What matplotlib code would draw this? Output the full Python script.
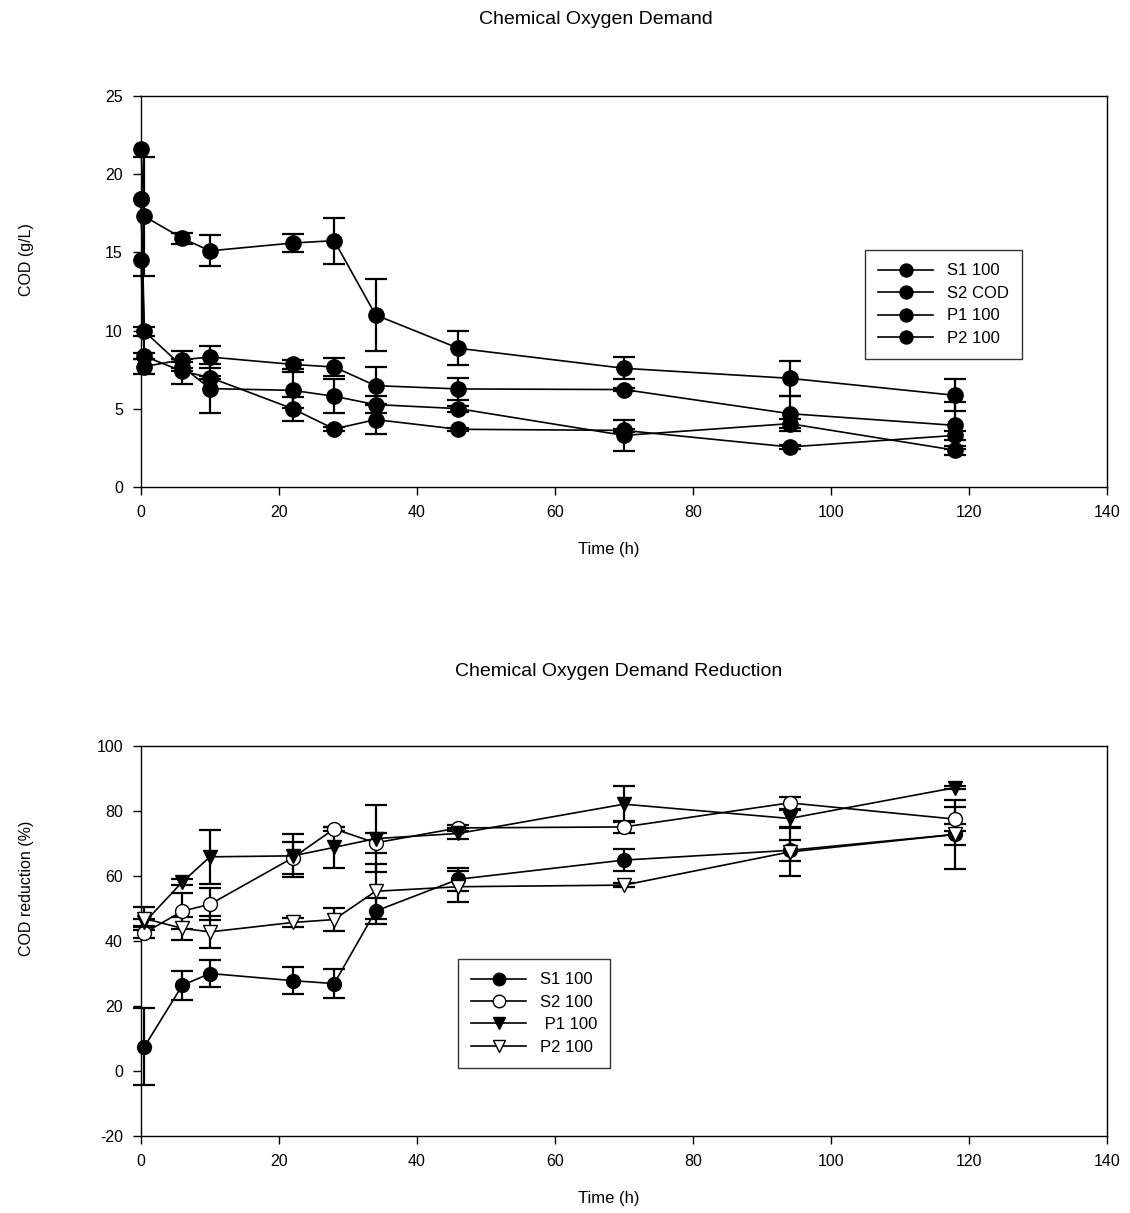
import numpy as np
import matplotlib
matplotlib.use("Agg")
import matplotlib.pyplot as plt

plt.rcParams["font.family"] = ["Liberation Sans", "DejaVu Sans"]
plt.rcParams["axes.unicode_minus"] = False

# Top chart: COD (g/L)
cod_time = [0, 0.5, 6, 10, 22, 28, 34, 46, 70, 94, 118]
cod_labels = ["S1 100", "S2 COD", "P1 100", "P2 100"]
cod_s1 = [21.6, 17.3, 15.9, 15.1, 15.6, 15.75, 11.0, 8.87, 7.59, 6.95, 5.86]
cod_s1_err = [0, 3.8, 0.35, 1.0, 0.58, 1.47, 2.3, 1.08, 0.71, 1.1, 1.02]
cod_s2 = [14.5, 7.7, 8.14, 8.31, 7.84, 7.67, 6.48, 6.27, 6.23, 4.69, 3.94]
cod_s2_err = [0, 0.5, 0.54, 0.7, 0.3, 0.55, 1.2, 0.7, 0.1, 1.1, 1.5]
cod_p1 = [18.4, 9.95, 7.7, 6.29, 6.18, 5.8, 5.27, 5.01, 3.30, 4.05, 2.35]
cod_p1_err = [0, 0.3, 0.3, 1.55, 1.15, 1.1, 0.55, 0.2, 1.0, 0.3, 0.3]
cod_p2 = [18.4, 8.36, 7.4, 7.0, 5.0, 3.71, 4.31, 3.69, 3.62, 2.56, 3.30]
cod_p2_err = [0, 0.2, 0.8, 0.1, 0.75, 0.1, 0.93, 0.1, 0.1, 0.15, 0.3]

# Bottom chart: COD reduction (%)
red_time = [0.5, 6, 10, 22, 28, 34, 46, 70, 94, 118]
red_labels = ["S1 100", "S2 100", " P1 100", "P2 100"]
red_s1 = [7.5, 26.4, 30.0, 27.8, 26.9, 49.2, 59.0, 64.9, 67.9, 72.8]
red_s1_err = [11.9, 4.5, 4.25, 4.25, 4.35, 4.0, 3.5, 3.3, 3.3, 3.3]
red_s2 = [42.5, 49.2, 51.3, 65.6, 74.5, 70.2, 74.8, 75.1, 82.5, 77.5]
red_s2_err = [1.7, 5.6, 4.9, 4.9, 0.5, 3.0, 0.8, 1.8, 1.8, 3.8]
red_p1 = [45.7, 58.2, 65.9, 66.2, 68.8, 71.5, 73.1, 82.1, 77.7, 87.2]
red_p1_err = [1.0, 1.0, 8.4, 6.6, 6.2, 10.3, 1.6, 5.5, 2.5, 0.5]
red_p2 = [46.9, 43.9, 42.8, 45.7, 46.6, 55.3, 56.7, 57.2, 67.4, 72.8]
red_p2_err = [3.6, 3.6, 5.0, 1.5, 3.5, 8.5, 4.7, 0.5, 7.3, 10.7]

fig = plt.figure(figsize=(11.3, 12.13), dpi=100)
W, H = 1130, 1213


def ax_rect(left, top, right, bottom):
    return [left / W, 1 - bottom / H, (right - left) / W, (bottom - top) / H]


def style_axes(ax):
    for sp in ax.spines.values():
        sp.set_linewidth(1.0)
        sp.set_color("black")
    ax.tick_params(direction="out", length=6, width=1, labelsize=11.5,
                   top=False, right=False, pad=7)


def draw_series(ax, t, y, err, marker, face, ms, label):
    t = np.array(t)
    y = np.array(y)
    err = np.array(err)
    keep = err > 0
    ax.errorbar(t[keep], y[keep], yerr=err[keep], fmt="none", ecolor="black",
                elinewidth=1.6, capsize=8, capthick=1.6, zorder=2, clip_on=False)
    ax.plot(t, y, color="black", lw=1.2, marker=marker, ms=ms,
            mfc=face, mec="black", mew=1.0, label=label, zorder=3, clip_on=False)


# ---- top chart ----
ax1 = fig.add_axes(ax_rect(141, 96, 1107, 487))
style_axes(ax1)
top_series = [(cod_s1, cod_s1_err), (cod_s2, cod_s2_err),
              (cod_p1, cod_p1_err), (cod_p2, cod_p2_err)]
for (y, e), lab in zip(top_series, cod_labels):
    draw_series(ax1, cod_time, y, e, "o", "black", 11, lab)
ax1.set_xlim(0, 140)
ax1.set_ylim(0, 25)
ax1.set_xticks(range(0, 141, 20))
ax1.set_yticks(range(0, 26, 5))
leg1 = ax1.legend(loc="upper left", bbox_to_anchor=((865 - 141) / 966, (487 - 250) / 391),
                  frameon=True, fancybox=False, fontsize=12, handlelength=3.3,
                  handletextpad=0.8, labelspacing=0.45, borderpad=0.8, borderaxespad=0,
                  markerscale=0.85)
leg1.get_frame().set_edgecolor("black")
leg1.get_frame().set_linewidth(1.0)
fig.text(596 / W, 1 - 20 / H, "Chemical Oxygen Demand", ha="center", va="center", fontsize=14)
fig.text(609 / W, 1 - 550 / H, "Time (h)", ha="center", va="center", fontsize=12)
fig.text(27 / W, 1 - 260 / H, "COD (g/L)", ha="center", va="center", rotation=90, fontsize=11.5)

# ---- bottom chart ----
ax2 = fig.add_axes(ax_rect(141, 746, 1107, 1136))
style_axes(ax2)
bot_series = [(red_s1, red_s1_err, "o", "black"), (red_s2, red_s2_err, "o", "white"),
              (red_p1, red_p1_err, "v", "black"), (red_p2, red_p2_err, "v", "white")]
for (y, e, m, f), lab in zip(bot_series, red_labels):
    draw_series(ax2, red_time, y, e, m, f, 10, lab)
ax2.set_xlim(0, 140)
ax2.set_ylim(-20, 100)
ax2.set_xticks(range(0, 141, 20))
ax2.set_yticks(range(-20, 101, 20))
leg2 = ax2.legend(loc="upper left", bbox_to_anchor=((458 - 141) / 966, (1136 - 959) / 390),
                  frameon=True, fancybox=False, fontsize=12, handlelength=3.3,
                  handletextpad=0.8, labelspacing=0.45, borderpad=0.8, borderaxespad=0,
                  markerscale=0.9)
leg2.get_frame().set_edgecolor("black")
leg2.get_frame().set_linewidth(1.0)
fig.text(619 / W, 1 - 672 / H, "Chemical Oxygen Demand Reduction", ha="center", va="center", fontsize=14)
fig.text(609 / W, 1 - 1198 / H, "Time (h)", ha="center", va="center", fontsize=12)
fig.text(27 / W, 1 - 888 / H, "COD reduction (%)", ha="center", va="center", rotation=90, fontsize=11.5)

fig.savefig("out.png", dpi=100, facecolor="white")
